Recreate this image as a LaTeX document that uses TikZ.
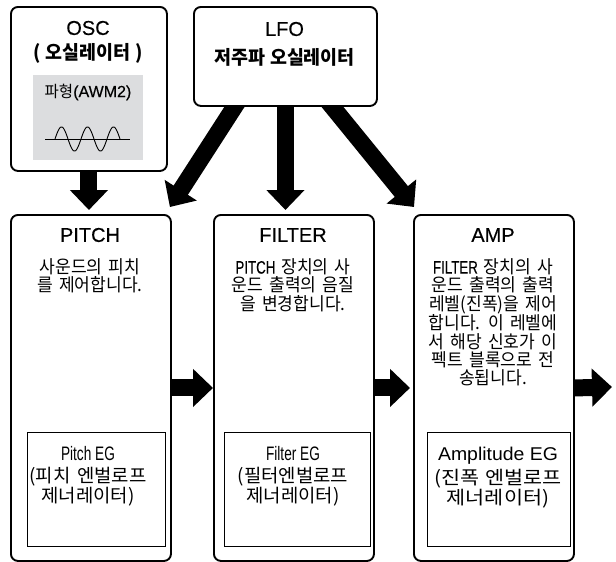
\documentclass[tikz,border=0pt]{standalone}
\usepackage{fontspec}
\setmainfont{Noto Sans CJK KR}
\newfontfamily\krbody{Noto Sans CJK KR}[FakeStretch=0.95,WordSpace=1.6]
\newfontfamily\krtop{Noto Sans CJK KR}[FakeStretch=0.97,WordSpace=1.2]
\newfontfamily\kregA{Noto Sans CJK KR}[FakeStretch=1.02,WordSpace=1.6]
\newfontfamily\kregB{Noto Sans CJK KR}[FakeStretch=1.12,WordSpace=1.4]
\newfontfamily\latn{Liberation Sans}[FakeBold=0.3]
\newfontfamily\latc{Liberation Sans}[FakeStretch=0.74,FakeBold=0.2]
\newfontfamily\lategA{Liberation Sans}[FakeStretch=0.7]
\newfontfamily\lategB{Liberation Sans}[FakeStretch=1.05]
\usepackage{tikz}
\usetikzlibrary{arrows.meta,backgrounds,calc}
\definecolor{wavegray}{RGB}{220,221,223}
\tikzstyle{unit}=[draw, line width=1.9pt, rounded corners=7pt, fill=white, anchor=north west, inner sep=0pt]
\tikzstyle{egbox}=[draw, line width=0.9pt, fill=white, anchor=north west, inner sep=0pt]
\tikzstyle{fat}=[line width=17pt, -{Triangle[length=20pt,width=37pt]}]
\tikzstyle{ttl}=[inner sep=0pt, font=\latn\fontsize{20}{20}\selectfont]
\tikzstyle{subttl}=[inner sep=0pt, font=\krtop\bfseries\fontsize{19}{19}\selectfont]
\tikzstyle{body}=[inner sep=0pt, align=center, anchor=north, font=\krbody\fontsize{18}{18.3}\selectfont]
\tikzstyle{egtxtA}=[inner sep=0pt, align=center, anchor=north, font=\kregA\fontsize{18.5}{18.5}\selectfont]
\tikzstyle{egtxtB}=[inner sep=0pt, align=center, anchor=north, font=\kregB\fontsize{18.5}{18.5}\selectfont]

\begin{document}
\begin{tikzpicture}[x=1pt, y=-1pt]
  \useasboundingbox (0,0) rectangle (616,562);

  \node [unit, minimum width=156pt, minimum height=164pt] at (10, 6) (osc) {};
  \node [unit, minimum width=183pt, minimum height=99pt] at (193, 6) (lfo) {};
  \node [unit, minimum width=160pt, minimum height=346pt] at (10, 214) (pitch) {};
  \node [unit, minimum width=160pt, minimum height=346pt] at (213, 214) (filter) {};
  \node [unit, minimum width=160pt, minimum height=346pt] at (413, 214) (amp) {};

  \node [fill=wavegray, anchor=north west, inner sep=0pt, minimum width=110pt, minimum height=85pt] at (33, 75) (wave) {};
  \node [egbox, minimum width=138pt, minimum height=114pt] at (27, 432) (pitcheg) {};
  \node [egbox, minimum width=146pt, minimum height=114pt] at (224, 432) (filtereg) {};
  \node [egbox, minimum width=143pt, minimum height=114pt] at (427, 432) (ampeg) {};

  \coordinate (lfoL) at ([xshift=-51pt]lfo.south);
  \coordinate (lfoR) at ([xshift=47pt]lfo.south);
  \coordinate (pitchin) at ([xshift=-2pt,yshift=7pt]pitch.north east);
  \coordinate (ampin) at ([xshift=1pt,yshift=7pt]amp.north west);
  \coordinate (out) at (612, 387);

  \begin{scope}[on background layer]
    \draw [fat, shorten >=4pt] ([yshift=6pt]osc.south) -- (pitch.north -| osc.south);
    \draw [fat, shorten >=4pt] ([yshift=6pt]lfo.south) -- (filter.north -| lfo.south);
    \draw [fat] ($(lfoL)!-12pt!(pitchin)$) -- (pitchin);
    \draw [fat] ($(lfoR)!-12pt!(ampin)$) -- (ampin);
  \end{scope}

  \draw [fat] (pitch.east) -- (filter.west);
  \draw [fat, shorten >=3pt] (filter.east) -- (amp.west);
  \draw [fat] (amp.east) -- (out);

  \node [ttl] at (88, 28) (osct) {OSC};
  \node [subttl] at (88, 53) (oscsub) {( 오실레이터 )};
  \node [inner sep=0pt, font=\krtop\fontsize{16}{16}\selectfont] at (88, 92) (wavet) {파형{\latn (AWM2)}};
  \draw [line width=0.7pt] (45, 139) -- (130, 139);
  \draw [line width=0.9pt] plot [domain=0:900, samples=121] ({55+\x/900*65}, {139-12*sin(\x)});

  \node [ttl] at (284.5, 29) (lfot) {LFO};
  \node [subttl] at (284.5, 57) (lfosub) {저주파 오실레이터};

  \node [ttl] at (90, 235) (pitcht) {PITCH};
  \node [body] at (90, 258.5) (pitchtxt) {사운드의 피치\\를 제어합니다.};
  \node [ttl] at (293, 235) (filtert) {FILTER};
  \node [body] at (293, 258.5) (filtertxt) {{\latc PITCH} 장치의 사\\운드 출력의 음질\\을 변경합니다.};
  \node [ttl] at (493, 235) (ampt) {AMP};
  \node [body] at (493, 258.5) (amptxt) {{\latc FILTER} 장치의 사\\운드 출력의 출력\\레벨(진폭)을 제어\\합니다. 이 레벨에\\서 해당 신호가 이\\펙트 블록으로 전\\송됩니다.};

  \node [egtxtA] at (88, 446) (pitchegtxt) {{\lategA\fontsize{19.5}{19.5}\selectfont Pitch EG}\\[4pt](피치 엔벌로프\\제너레이터)};
  \node [egtxtA] at (293, 446) (filteregtxt) {{\lategA\fontsize{19.5}{19.5}\selectfont Filter EG}\\[4pt](필터엔벌로프\\제너레이터)};
  \node [egtxtB] at (498, 446.5) (ampegtxt) {{\lategB Amplitude EG}\\[4pt](진폭 엔벌로프\\제너레이터)};
\end{tikzpicture}
\end{document}
